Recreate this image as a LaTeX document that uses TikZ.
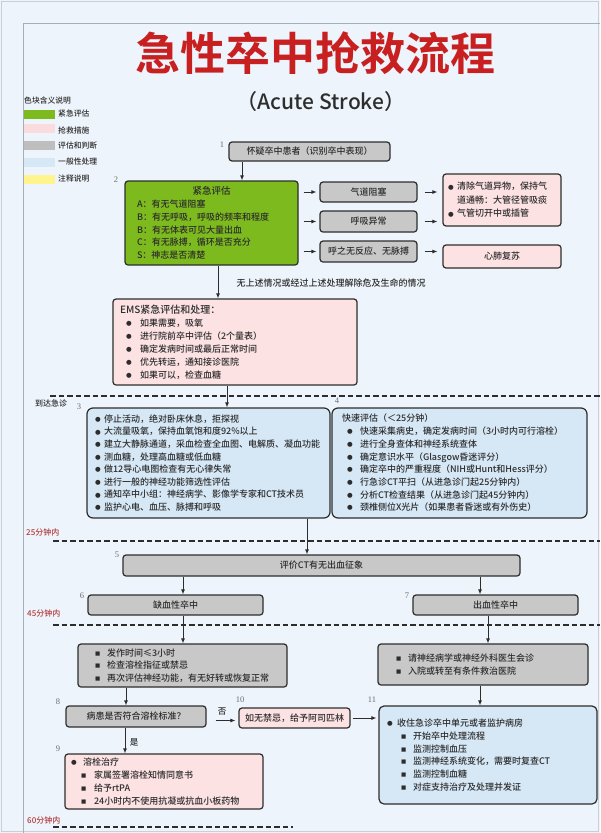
\documentclass[tikz,border=0pt]{standalone}
\usepackage{fontspec}
\setmainfont{Noto Sans CJK SC}[UprightFont=* Medium,BoldFont=* Bold]
\newfontfamily\symf{DejaVu Sans}
\newfontfamily\numf{Liberation Serif}
\usetikzlibrary{arrows.meta}
\definecolor{bgc}{RGB}{237,244,251}
\definecolor{greenc}{RGB}{124,186,30}
\definecolor{pinkc}{RGB}{253,226,228}
\definecolor{grayc}{RGB}{200,200,200}
\definecolor{bluec}{RGB}{214,232,246}
\definecolor{yelc}{RGB}{255,245,140}
\definecolor{lgpink}{RGB}{250,220,222}
\definecolor{lggray}{RGB}{190,190,190}
\definecolor{titlec}{RGB}{200,32,32}
\definecolor{timec}{RGB}{180,60,60}
\definecolor{linec}{RGB}{45,45,45}
\definecolor{txtc}{RGB}{45,45,45}
\definecolor{numc}{RGB}{110,110,110}
\definecolor{framec}{RGB}{165,175,185}
\newcommand\bdot[1]{\makebox[#1][l]{\raisebox{0.9pt}{\symf\fontsize{6.5}{6.5}\selectfont ●}}}
\newcommand\bsq[1]{\makebox[#1][l]{\raisebox{1pt}{\symf\fontsize{5.5}{5.5}\selectfont ■}}}
\begin{document}
\begin{tikzpicture}[x=1pt,y=-1pt,
  bx/.style={draw=linec,line width=1.2pt,rounded corners=3pt,inner ysep=0pt,text=txtc,font=\fontsize{9}{12.6}\selectfont},
  gbox/.style={bx,fill=grayc,align=center,inner xsep=0pt},
  pbox/.style={bx,fill=pinkc,align=center,inner xsep=0pt},
  arr/.style={draw=linec,line width=0.9pt,-{Latex[length=5pt,width=4pt]}},
  dl/.style={draw=linec,line width=1.2pt,dash pattern=on 5.5pt off 3pt},
  num/.style={font=\numf\fontsize{8.5}{8.5}\selectfont,text=numc,inner sep=0pt},
  tlab/.style={font=\fontsize{8}{8}\selectfont,text=timec,inner sep=0pt,anchor=west},
  lg/.style={font=\fontsize{7.8}{7.8}\selectfont,text=txtc,inner sep=0pt,anchor=west},
  sw/.style={inner sep=0pt,minimum width=31pt,minimum height=9pt,anchor=north west}
]
\fill[bgc] (0,0) rectangle (600,833);
\useasboundingbox (0,0) rectangle (600,833);
\draw[framec!60,line width=1.2pt] (1.5,1.5) rectangle (598.5,831.5);
\draw[framec,line width=0.8pt] (23,833) -- (23,23) -- (600,23);

% title
\node[font=\fontsize{45}{45}\selectfont\bfseries,text=titlec] (title) at (315,53) {急性卒中抢救流程};
\node[font=\fontsize{21}{21}\selectfont,text=txtc] (sub) at (321,102) {（Acute Stroke）};

% legend
\node[lg] (lgt) at (24,101) {色块含义说明};
\node[sw,fill=greenc] (s1) at (24,110) {};
\node[sw,fill=lgpink] (s2) at (24,124) {};
\node[sw,fill=lggray] (s3) at (24,141) {};
\node[sw,fill=bluec] (s4) at (24,158) {};
\node[sw,fill=yelc] (s5) at (24,175) {};
\node[lg] (l1) at (58,114) {紧急评估};
\node[lg] (l2) at (58,130) {抢救措施};
\node[lg] (l3) at (58,146) {评估和判断};
\node[lg] (l4) at (58,162) {一般性处理};
\node[lg] (l5) at (58,179) {注释说明};

% boxes
\node[gbox,minimum width=161pt,minimum height=19pt] (b1) at (309.5,151.5) {怀疑卒中患者（识别卒中表现）};
\node[bx,fill=greenc,text width=149pt,inner xsep=12pt,minimum height=84pt,align=left,font=\fontsize{9}{12.8}\selectfont] (b2) at (211.5,223)
 {\makebox[\hsize][c]{\fontsize{9.5}{12.8}\selectfont 紧急评估}\\A：有无气道阻塞\\B：有无呼吸，呼吸的频率和程度\\B：有无体表可见大量出血\\C：有无脉搏，循环是否充分\\S：神志是否清楚};
\node[gbox,minimum width=97pt,minimum height=20pt] (g1) at (368.5,192) {气道阻塞};
\node[gbox,minimum width=97pt,minimum height=21pt] (g2) at (368.5,221.5) {呼吸异常};
\node[gbox,minimum width=97pt,minimum height=21pt] (g3) at (368.5,251.5) {呼之无反应、无脉搏};
\node[bx,fill=pinkc,text width=108pt,inner xsep=5pt,minimum height=52pt,align=left,font=\fontsize{9}{13.5}\selectfont] (pA) at (502,200)
 {\bdot{9pt}清除气道异物，保持气\\\hspace*{9pt}道通畅：大管径管吸痰\\\bdot{9pt}气管切开中或插管};
\node[pbox,minimum width=118pt,minimum height=23pt] (pB) at (502,256.5) {心肺复苏};

\node[font=\fontsize{9}{9}\selectfont,text=txtc] (note) at (331,283) {无上述情况或经过上述处理解除危及生命的情况};

\node[bx,fill=pinkc,text width=230pt,inner xsep=7pt,minimum height=86pt,align=left,font=\fontsize{9}{13}\selectfont] (ems) at (235,342)
 {{\fontsize{10}{13}\selectfont EMS紧急评估和处理：}\\
  \hspace*{6pt}\bdot{14pt}如果需要，吸氧\\
  \hspace*{6pt}\bdot{14pt}进行院前卒中评估（2个量表）\\
  \hspace*{6pt}\bdot{14pt}确定发病时间或最后正常时间\\
  \hspace*{6pt}\bdot{14pt}优先转运，通知接诊医院\\
  \hspace*{6pt}\bdot{14pt}如果可以，检查血糖};

\node[bx,fill=bluec,rounded corners=6pt,text width=227pt,inner xsep=8pt,minimum height=110pt,align=left,font=\fontsize{9}{12.6}\selectfont] (b3) at (208.5,463)
 {\bdot{9pt}停止活动，绝对卧床休息，拒探视\\
  \bdot{9pt}大流量吸氧，保持血氧饱和度92\%以上\\
  \bdot{9pt}建立大静脉通道，采血检查全血图、电解质、凝血功能\\
  \bdot{9pt}测血糖，处理高血糖或低血糖\\
  \bdot{9pt}做12导心电图检查有无心律失常\\
  \bdot{9pt}进行一般的神经功能筛选性评估\\
  \bdot{9pt}通知卒中小组：神经病学、影像学专家和CT技术员\\
  \bdot{9pt}监护心电、血压、脉搏和呼吸};

\node[bx,fill=bluec,rounded corners=6pt,text width=235pt,inner xsep=10pt,minimum height=110pt,align=left,font=\fontsize{9}{12.7}\selectfont] (b4) at (459.5,463)
 {快速评估（＜25分钟）\\
  \hspace*{5pt}\bdot{13pt}快速采集病史，确定发病时间（3小时内可行溶栓）\\
  \hspace*{5pt}\bdot{13pt}进行全身查体和神经系统查体\\
  \hspace*{5pt}\bdot{13pt}确定意识水平（Glasgow昏迷评分）\\
  \hspace*{5pt}\bdot{13pt}确定卒中的严重程度（NIH或Hunt和Hess评分）\\
  \hspace*{5pt}\bdot{13pt}行急诊CT平扫（从进急诊门起25分钟内）\\
  \hspace*{5pt}\bdot{13pt}分析CT检查结果（从进急诊门起45分钟内）\\
  \hspace*{5pt}\bdot{13pt}颈椎侧位X光片（如果患者昏迷或有外伤史）};

\node[gbox,minimum width=397pt,minimum height=21pt] (b5) at (321.5,565.5) {评价CT有无出血征象};
\node[gbox,minimum width=175pt,minimum height=20pt] (b6) at (175.5,605) {缺血性卒中};
\node[gbox,minimum width=165pt,minimum height=20pt] (b7) at (495.5,605) {出血性卒中};

\node[bx,fill=grayc,text width=175pt,inner xsep=17pt,minimum height=43pt,align=left,font=\fontsize{9}{12.5}\selectfont] (b6b) at (182.5,665.5)
 {\bsq{12pt}发作时间≤3小时\\\bsq{12pt}检查溶栓指征或禁忌\\\bsq{12pt}再次评估神经功能，有无好转或恢复正常};
\node[bx,fill=grayc,text width=174pt,inner xsep=18pt,minimum height=41pt,align=left,font=\fontsize{9}{12.2}\selectfont] (b7b) at (483,664.5)
 {\bsq{12pt}请神经病学或神经外科医生会诊\\\bsq{12pt}入院或转至有条件救治医院};

\node[gbox,minimum width=140pt,minimum height=21pt] (b8) at (136,716.5) {病患是否符合溶栓标准？};
\node[pbox,minimum width=111pt,minimum height=20pt] (b10) at (294.5,718) {如无禁忌，给予阿司匹林};

\node[bx,fill=bluec,rounded corners=5pt,text width=202pt,inner xsep=8pt,minimum height=98pt,align=left,font=\fontsize{9}{12.8}\selectfont] (b11) at (488,755)
 {\bdot{10pt}收住急诊卒中单元或者监护病房\\
  \hspace*{14pt}\bsq{12pt}开始卒中处理流程\\
  \hspace*{14pt}\bsq{12pt}监测控制血压\\
  \hspace*{14pt}\bsq{12pt}监测神经系统变化，需要时复查CT\\
  \hspace*{14pt}\bsq{12pt}监测控制血糖\\
  \hspace*{14pt}\bsq{12pt}对症支持治疗及处理并发证};

\node[bx,fill=pinkc,text width=186pt,inner xsep=6pt,minimum height=55pt,align=left,font=\fontsize{9}{13}\selectfont] (b9) at (164,781.5)
 {\bdot{12pt}溶栓治疗\\
  \hspace*{10pt}\bsq{13pt}家属签署溶栓知情同意书\\
  \hspace*{10pt}\bsq{13pt}给予rtPA\\
  \hspace*{10pt}\bsq{13pt}24小时内不使用抗凝或抗血小板药物};

% numbers
\node[num] (n1) at (222,145) {1};
\node[num] (n2) at (116,180) {2};
\node[num] (n3) at (79,407) {3};
\node[num] (n4) at (337,401) {4};
\node[num] (n5) at (117,555) {5};
\node[num] (n6) at (82,596) {6};
\node[num] (n7) at (407,596) {7};
\node[num] (n8) at (58,702) {8};
\node[num] (n9) at (58,749) {9};
\node[num] (n10) at (240,700) {10};
\node[num] (n11) at (372,700) {11};

% time labels and dashed separators
\node[tlab,text=txtc] (t0) at (35,403) {到达急诊};
\node[tlab] (t25) at (26,532) {25分钟内};
\node[tlab] (t45) at (27,613) {45分钟内};
\node[tlab] (t60) at (27,820) {60分钟内};
\draw[dl] (50,396) -- (600,396);
\draw[dl] (53,541) -- (600,541);
\draw[dl] (53,625) -- (600,625);
\draw[dl] (53,827) -- (293,827);

% connectors
\coordinate (a1) at ([xshift=-67.5pt]b1.south);
\draw[arr] (a1) -- (a1 |- b2.north);
\draw[arr,shorten <=5pt,shorten >=3pt] (g1.west -| b2.east) -- (g1.west);
\draw[arr,shorten <=5pt,shorten >=3pt] (g2.west -| b2.east) -- (g2.west);
\draw[arr,shorten <=5pt,shorten >=3pt] (g3.west -| b2.east) -- (g3.west);
\draw[arr,shorten <=7pt,shorten >=5pt] (g1.east) -- (g1.east -| pA.west);
\draw[arr,shorten <=7pt,shorten >=5pt] (g2.east) -- (g2.east -| pA.west);
\draw[arr,shorten <=7pt,shorten >=5pt] (g3.east) -- (g3.east -| pB.west);
\coordinate (a2) at ([xshift=6.5pt]b2.south);
\draw[arr] (a2) -- (a2 |- ems.north);
\coordinate (a3) at ([xshift=-8pt]ems.south);
\draw[arr] (a3) -- (a3 |- b3.north);
\coordinate (a4) at ([xshift=98.5pt]b3.south);
\draw[arr] (a4) -- (a4 |- b5.north);
\coordinate (a5) at ([xshift=-138.5pt]b5.south);
\draw[arr] (a5) -- (a5 |- b6.north);
\coordinate (a6) at ([xshift=158.5pt]b5.south);
\draw[arr] (a6) -- (a6 |- b7.north);
\coordinate (a7) at ([xshift=7.5pt]b6.south);
\draw[arr] (a7) -- (a7 |- b6b.north);
\coordinate (a8) at ([xshift=-7.5pt]b7.south);
\draw[arr] (a8) -- (a8 |- b7b.north);
\coordinate (a9) at ([xshift=-56.5pt]b6b.south);
\draw[arr] (a9) -- (a9 |- b8.north);
\coordinate (a10) at ([xshift=-11pt]b8.south);
\draw[arr] (a10) -- (a10 |- b9.north);
\coordinate (a11) at ([xshift=-3pt]b7b.south);
\draw[arr] (a11) -- (a11 |- b11.north);
\coordinate (a12) at ([yshift=-4pt]b8.east);
\draw[arr,shorten <=9pt,shorten >=3pt] (a12) -- (a12 -| b10.west);
\draw[arr,shorten <=2pt,shorten >=2pt] (b10.east) -- (b10.east -| b11.west);
\node[font=\fontsize{8.5}{8.5}\selectfont,text=txtc] (no) at (222,711) {否};
\node[font=\fontsize{8.5}{8.5}\selectfont,text=txtc] (yes) at (134,742) {是};
\end{tikzpicture}
\end{document}
